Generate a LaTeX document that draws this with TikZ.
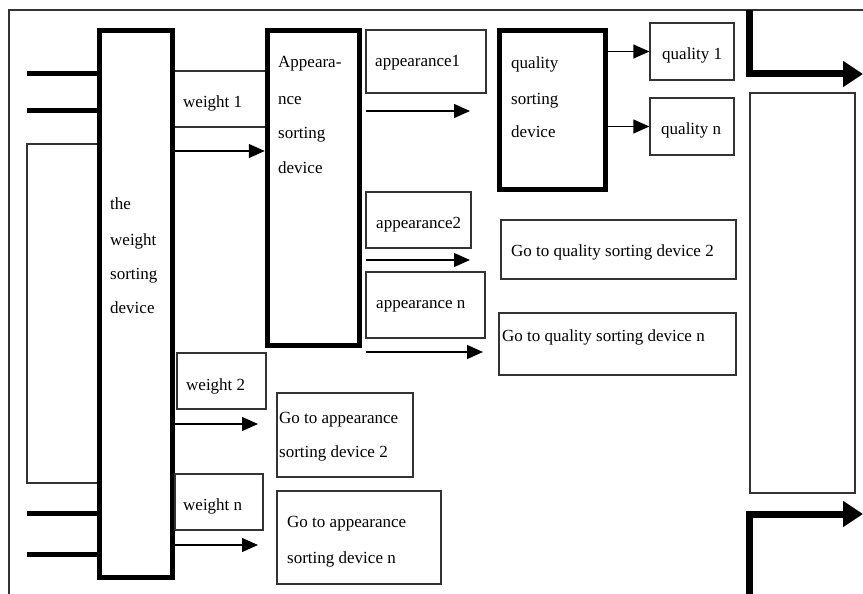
\documentclass[tikz,border=0pt]{standalone}
\usepackage{fontspec}
\setmainfont{Liberation Serif}
\usetikzlibrary{arrows.meta}
\begin{document}
\begin{tikzpicture}[x=1pt,y=-1pt,
  thinl/.style={line width=1.3pt, draw=black!80},
  tbox/.style={thinl, rectangle, inner sep=0pt},
  kbox/.style={line width=5.5pt, draw=black, rectangle, inner sep=0pt},
  inl/.style={line width=5pt, draw=black},
  txt/.style={font=\fontsize{17}{20}\selectfont, inner sep=0pt, anchor=base west, text=black},
  arr/.style={thinl, draw=black, -{Triangle[length=16pt,width=14pt]}},
  bigarr/.style={line width=7pt, draw=black, -{Triangle[length=20pt,width=25pt]}},
]
\useasboundingbox (0,0) rectangle (863,594);
\fill[white] (0,0) rectangle (863,594);
% outer frame
\draw[thinl] (9,594) -- (9,10) -- (863,10);

% thick devices
\node[kbox, minimum width=73pt, minimum height=547pt] (W) at (136,304) {};
\node[kbox, minimum width=92pt, minimum height=315pt] (A) at (313.5,188) {};
\node[kbox, minimum width=106pt, minimum height=159pt] (Q) at (552.5,110) {};

% thin boxes
\node[tbox, minimum width=120pt, minimum height=63pt] (A1) at (426,61.5) {};
\node[tbox, minimum width=84pt, minimum height=57pt] (Q1) at (692,51.5) {};
\node[tbox, minimum width=84pt, minimum height=57pt] (Qn) at (692,126.5) {};
\node[tbox, minimum width=105pt, minimum height=400pt] (R) at (802.5,293) {};
\node[tbox, minimum width=105pt, minimum height=56pt] (A2) at (418.5,220) {};
\node[tbox, minimum width=119pt, minimum height=66pt] (An) at (425.5,305) {};
\node[tbox, minimum width=235pt, minimum height=59pt] (GQ2) at (618.5,249.5) {};
\node[tbox, minimum width=237pt, minimum height=62pt] (GQn) at (617.5,344) {};
\node[tbox, minimum width=89pt, minimum height=56pt] (W2) at (221.5,381) {};
\node[tbox, minimum width=136pt, minimum height=84pt] (GA2) at (345,435) {};
\node[tbox, minimum width=88pt, minimum height=56pt] (Wn) at (219,502) {};
\node[tbox, minimum width=164pt, minimum height=93pt] (GAn) at (359,537.5) {};

% input lines
\coordinate (in1) at (27,74);
\coordinate (in2) at (27,111);
\coordinate (in3) at (27,513);
\coordinate (in4) at (27,554);
\draw[inl] (in1) -- (W.west |- in1);
\draw[inl] (in2) -- (W.west |- in2);
\draw[inl] (in3) -- (W.west |- in3);
\draw[inl] (in4) -- (W.west |- in4);

% left open rectangle
\draw[thinl] (W.west |- 0,144) -- (27,144) -- (27,483) -- (W.west |- 0,483);

% weight 1 band
\draw[thinl] (W.east |- 0,71) -- (A.west |- 0,71);
\draw[thinl] (W.east |- 0,127) -- (A.west |- 0,127);

% arrows
\draw[arr] (W.east |- 0,151) -- (A.west |- 0,151);
\coordinate (e1) at (470,111);
\draw[arr] ([xshift=4pt]A.east |- e1) -- (e1);
\coordinate (e2) at (470,260);
\draw[arr] ([xshift=4pt]A.east |- e2) -- (e2);
\coordinate (e3) at (483,352);
\draw[arr] ([xshift=4pt]A.east |- e3) -- (e3);
\draw[arr] (Q.east |- Q1) -- (Q1.west);
\draw[arr] (Q.east |- Qn) -- (Qn.west);
\coordinate (e4) at (258,424);
\draw[arr] (W.east |- e4) -- (e4);
\coordinate (e5) at (258,545);
\draw[arr] (W.east |- e5) -- (e5);

% big output arrows
\coordinate (o1) at (749,10);
\coordinate (o1t) at (863,74);
\draw[bigarr] (o1) |- (o1t);
\coordinate (o2) at (749,594);
\coordinate (o2t) at (863,514);
\draw[bigarr] (o2) |- (o2t);

% texts
\node[txt] (t1) at (110,209) {the};
\node[txt] (t2) at (110,245) {weight};
\node[txt] (t3) at (110,279) {sorting};
\node[txt] (t4) at (110,313) {device};
\node[txt] (t5) at (183,108) {weight 1};
\node[txt] (t6) at (278,68) {Appeara-};
\node[txt] (t7) at (278,104) {nce};
\node[txt] (t8) at (278,139) {sorting};
\node[txt] (t9) at (278,173) {device};
\node[txt] (t10) at (375,67) {appearance1};
\node[txt] (t11) at (511,69) {quality};
\node[txt] (t12) at (511,104) {sorting};
\node[txt] (t13) at (511,138) {device};
\node[txt] (t14) at (662,60) {quality 1};
\node[txt] (t15) at (661,135) {quality n};
\node[txt] (t16) at (376,228) {appearance2};
\node[txt] (t17) at (376,308) {appearance n};
\node[txt] (t18) at (511,256) {Go to quality sorting device 2};
\node[txt] (t19) at (502,341) {Go to quality sorting device n};
\node[txt] (t20) at (186,390) {weight 2};
\node[txt] (t21) at (183,510) {weight n};
\node[txt] (t22) at (279,423) {Go to appearance};
\node[txt] (t23) at (279,457) {sorting device 2};
\node[txt] (t24) at (287,527) {Go to appearance};
\node[txt] (t25) at (287,563) {sorting device n};
\end{tikzpicture}
\end{document}
